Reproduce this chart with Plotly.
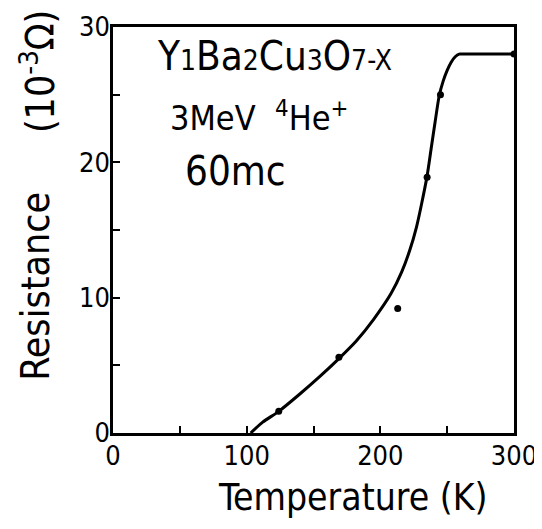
import plotly.graph_objects as go

# Curve traced through the measurements (Temperature K, Resistance 10^-3 Ohm)
curve_T = [103, 112, 124, 140, 155, 169, 182, 195, 208, 216, 222, 227, 231, 235, 238, 241, 244, 247, 250, 253, 256, 259, 261, 300]
curve_R = [0.0, 0.8, 1.6, 2.9, 4.2, 5.5, 6.8, 8.4, 10.3, 11.9, 13.5, 15.2, 17.0, 19.0, 21.0, 23.0, 24.9, 26.0, 26.8, 27.4, 27.8, 28.0, 28.0, 28.0]

# Measured points
pts_T = [124, 169, 213, 235, 245, 300]
pts_R = [1.6, 5.6, 9.2, 18.9, 25.0, 28.0]

x_ticks = [0, 100, 200, 300]
y_ticks = [0, 10, 20, 30]

FONT = "DejaVu Sans Condensed, Liberation Sans Narrow, DejaVu Sans"

fig = go.Figure()
fig.add_trace(go.Scatter(x=curve_T, y=curve_R, mode="lines",
                         line=dict(color="black", width=3, shape="spline", smoothing=0.6),
                         showlegend=False, hoverinfo="skip"))
fig.add_trace(go.Scatter(x=pts_T, y=pts_R, mode="markers",
                         marker=dict(color="black", size=7),
                         showlegend=False))

fig.update_layout(
    width=534, height=513,
    margin=dict(l=105, r=28, t=19, b=88, autoexpand=False),
    paper_bgcolor="white", plot_bgcolor="white",
    font=dict(family=FONT, color="black"),
    xaxis=dict(range=[0, 300], tickvals=x_ticks, ticktext=[str(v) for v in x_ticks],
               showgrid=False, zeroline=False, showline=True, linecolor="black", linewidth=2.5,
               mirror=True, ticks="inside", ticklen=7, tickwidth=2, tickcolor="black",
               minor=dict(tickvals=[50, 150, 250], ticks="inside", ticklen=7, tickwidth=2, tickcolor="black"),
               tickfont=dict(size=27, family=FONT), ticklabelstandoff=-3,
               ticklabeloverflow="allow", automargin=False),
    yaxis=dict(range=[0, 30], tickvals=y_ticks, ticktext=[str(v) for v in y_ticks],
               showgrid=False, zeroline=False, showline=True, linecolor="black", linewidth=2.5,
               mirror=True, ticks="inside", ticklen=7, tickwidth=2, tickcolor="black",
               minor=dict(tickvals=[5, 15, 25], ticks="inside", ticklen=7, tickwidth=2, tickcolor="black"),
               tickfont=dict(size=27, family=FONT), ticklabelstandoff=-5,
               ticklabeloverflow="allow", automargin=False),
    annotations=[
        dict(text="Temperature (K)", xref="paper", yref="paper", x=0.599, y=-0.16,
             xanchor="center", yanchor="middle", showarrow=False,
             font=dict(size=37, family=FONT)),
        dict(text="Resistance", xref="paper", yref="paper", x=-0.192, y=0.36,
             xanchor="center", yanchor="middle", showarrow=False, textangle=-90,
             font=dict(size=39, family=FONT)),
        dict(text="(10<sup>-3</sup>Ω)", xref="paper", yref="paper", x=-0.187, y=0.889,
             xanchor="center", yanchor="middle", showarrow=False, textangle=-90,
             font=dict(size=39, family=FONT)),
        dict(text="Y<span style='font-size:28px'>1</span>Ba<span style='font-size:28px'>2</span>Cu<span style='font-size:28px'>3</span>O<span style='font-size:28px'>7-X</span>",
             xref="paper", yref="paper", x=0.105, y=0.929,
             xanchor="left", yanchor="middle", showarrow=False,
             font=dict(size=40, family=FONT)),
        dict(text="3MeV  <sup>4</sup>He<sup>+</sup>", xref="paper", yref="paper", x=0.137, y=0.78,
             xanchor="left", yanchor="middle", showarrow=False,
             font=dict(size=34, family=FONT)),
        dict(text="60mc", xref="paper", yref="paper", x=0.175, y=0.645,
             xanchor="left", yanchor="middle", showarrow=False,
             font=dict(size=40, family=FONT)),
    ],
)

fig.write_html("out.html", config={"displayModeBar": False})
